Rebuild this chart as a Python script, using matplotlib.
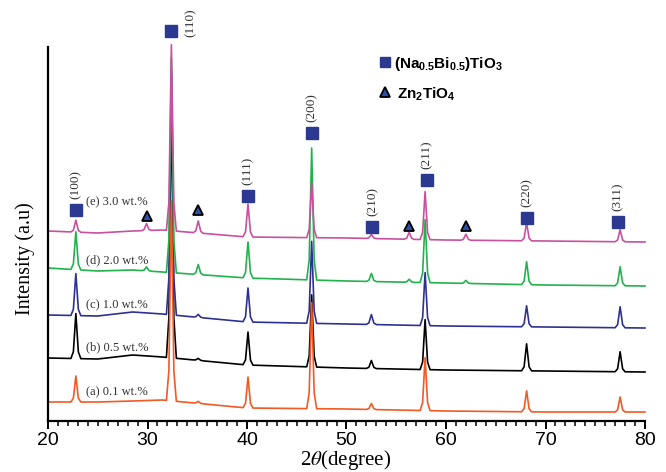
import numpy as np
import matplotlib
matplotlib.use("Agg")
import matplotlib.pyplot as plt

plt.rcParams["mathtext.fontset"] = "custom"
plt.rcParams["mathtext.rm"] = "Liberation Sans:bold"
plt.rcParams["mathtext.it"] = "Liberation Sans:bold"
plt.rcParams["mathtext.bf"] = "Liberation Sans:bold"

# baseline (2theta, intensity in arbitrary units)
base_x = [20, 25, 28.5, 31.5, 40, 50, 60, 70, 80]
base_e = [190, 188, 190, 191, 184, 183, 181, 180, 179]
base_d = [153, 150, 151, 149, 143, 140, 138, 136, 135]
base_c = [106, 105, 109, 107, 99, 97, 95, 94, 93]
base_b = [63, 62, 66, 64, 56, 53, 51, 50, 49]
base_a = [19, 19, 20, 21, 13, 12, 10, 9, 9]

# (Na0.5Bi0.5)TiO3 reflections and their heights above baseline
nbt_pos = [22.8, 32.4, 40.1, 46.5, 52.5, 57.9, 68.1, 77.5]
nbt_e = [12, 186, 33, 55, 4, 48, 18, 12]
nbt_d = [38, 215, 36, 132, 8, 63, 23, 19]
nbt_c = [42, 244, 34, 82, 10, 53, 21, 21]
nbt_b = [45, 267, 33, 72, 8, 50, 27, 20]
nbt_a = [26, 200, 31, 106, 6, 53, 21, 15]

# Zn2TiO4 reflections
zn_pos = [29.9, 35.1, 56.3, 62.0]
zn_e = [7, 12, 7, 6]
zn_d = [4, 10, 3, 3]
zn_c = [0, 3, 0, 0]
zn_b = [0, 2, 0, 0]
zn_a = [0, 2, 0, 0]

series_labels = ["(a) 0.1 wt.%", "(b) 0.5 wt.%", "(c) 1.0 wt.%", "(d) 2.0 wt.%", "(e) 3.0 wt.%"]
label_y = [29, 74, 116, 161, 219]

hkl = ["(100)", "(110)", "(111)", "(200)", "(210)", "(211)", "(220)", "(311)"]
sq_x = [22.8, 32.4, 40.1, 46.5, 52.6, 58.1, 68.1, 77.3]
sq_y = [211, 390, 225, 288, 194, 241, 203, 199]
tri_x = [29.9, 35.1, 56.3, 62.0]
tri_y = [205, 211, 195, 195]


def pattern(base, nbt_h, zn_h):
    pos = nbt_pos + zn_pos
    hts = nbt_h + zn_h
    xs = list(base_x)
    for p in pos:
        xs += [p - 0.5, p - 0.25, p, p + 0.25, p + 0.5]
    xs = np.unique(xs)
    y = np.interp(xs, base_x, base)
    for p, h in zip(pos, hts):
        y = y + np.interp(xs, [p - 0.5, p - 0.25, p, p + 0.25, p + 0.5],
                          [0, 0.15 * h, h, 0.15 * h, 0], left=0, right=0)
    return xs, y


fig = plt.figure(figsize=(6.66, 4.72), dpi=100)
ax = fig.add_axes([48 / 666, 51 / 472, 597 / 666, 374 / 472])

# draw order so the overlaps look like the original
curves = [
    (base_b, nbt_b, zn_b, "black"),
    (base_c, nbt_c, zn_c, "#2E3192"),
    (base_d, nbt_d, zn_d, "#22B24C"),
    (base_a, nbt_a, zn_a, "#F15A24"),
    (base_e, nbt_e, zn_e, "#C8509E"),
]
for base, nh, zh, col in curves:
    x, y = pattern(base, nh, zh)
    ax.plot(x, y, color=col, lw=1.2, clip_on=False)

for lab, ly in zip(series_labels, label_y):
    ax.text(23.8, ly, lab, family="Liberation Serif", fontsize=9, color="#333333",
            ha="left", va="center")

sq_col = "#2B3990"
ax.plot(sq_x, sq_y, "s", color=sq_col, ms=8, clip_on=False)
ax.plot(tri_x, tri_y, "^", mfc="#2E4FA3", mec="black", mew=1.3, ms=7, clip_on=False)

for h, x0, y0 in zip(hkl, sq_x, sq_y):
    if h == "(110)":
        ax.annotate(h, (x0, y0), xytext=(14, 6), textcoords="offset points",
                    rotation=90, ha="center", va="center",
                    family="Liberation Serif", fontsize=9.5, color="#333333",
                    annotation_clip=False)
    else:
        ax.annotate(h, (x0, y0), xytext=(0, 8), textcoords="offset points",
                    rotation=90, ha="center", va="bottom",
                    family="Liberation Serif", fontsize=9.5, color="#333333",
                    annotation_clip=False)

# legend drawn by hand
ax.plot([53.9], [359], "s", color=sq_col, ms=7.5, clip_on=False)
ax.plot([53.9], [329], "^", mfc="#2E4FA3", mec="black", mew=1.3, ms=6.5, clip_on=False)
ax.text(54.8, 357, "(Na$_{0.5}$Bi$_{0.5}$)TiO$_3$", family="Liberation Sans",
        weight="bold", fontsize=11, ha="left", va="center", math_fontfamily="custom")
ax.text(55.1, 327, "Zn$_2$TiO$_4$", family="Liberation Sans",
        weight="bold", fontsize=11, ha="left", va="center", math_fontfamily="custom")

ax.set_xlim(20, 80)
ax.set_ylim(0, 374)
ax.set_xticks(np.arange(20, 81, 10))
ax.set_xticks(np.arange(20, 81, 1), minor=True)
ax.set_yticks([])
ax.spines["top"].set_visible(False)
ax.spines["right"].set_visible(False)
ax.spines["left"].set_linewidth(1.6)
ax.spines["bottom"].set_linewidth(1.6)
ax.tick_params(axis="x", which="major", direction="out", length=6, width=1.4,
               labelsize=14, pad=2)
ax.tick_params(axis="x", which="minor", direction="out", length=3.5, width=1.1)
for t in ax.get_xticklabels():
    t.set_family("Liberation Sans")

fig.text(25 / 666, 1 - 259 / 472, "Intensity (a.u)", rotation=90, ha="center", va="center",
         family="Liberation Serif", fontsize=14.5)
fig.text(346 / 666, 1 - 460 / 472, r"2$\theta$(degree)", ha="center", va="center",
         family="Liberation Serif", fontsize=15, math_fontfamily="stix")

fig.savefig("out.png", dpi=100)
